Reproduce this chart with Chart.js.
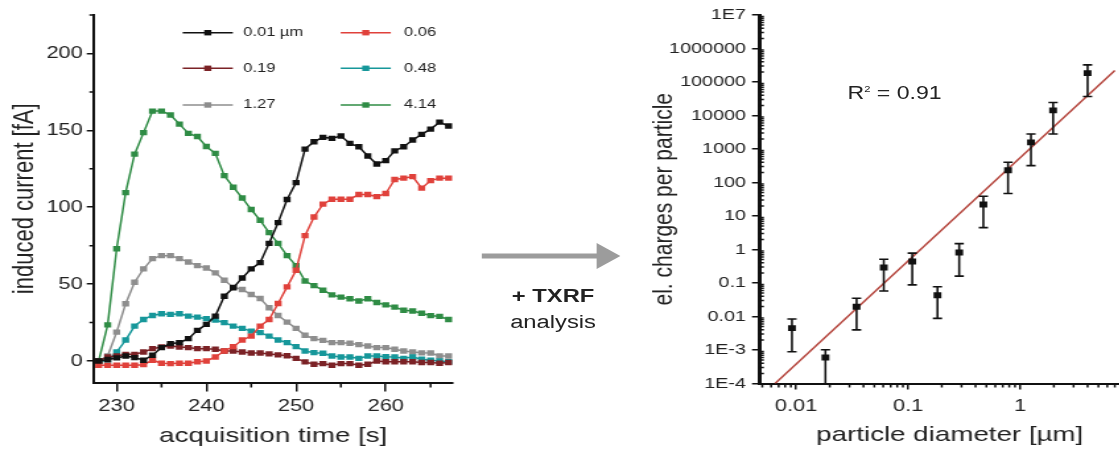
<!DOCTYPE html>
<html>
<head>
<meta charset="utf-8">
<script src="https://cdn.jsdelivr.net/npm/chart.js@4.4.1/dist/chart.umd.min.js"></script>
<style>
html, body { margin: 0; padding: 0; background: #fff; }
body { width: 1119px; height: 450px; overflow: hidden; position: relative;
       font-family: 'Liberation Sans', Arial, sans-serif; color: #222; }
/* the reference is stretched horizontally, so everything is drawn narrow and widened */
#stage { position: absolute; left: 0; top: 0; width: 880px; height: 450px;
         transform: scaleX(1.32); transform-origin: 0 0; }
#leftChart { position: absolute; left: 0; top: 0; }
#rightChart { position: absolute; left: 480px; top: 0; }
.mid { position: absolute; left: 369px; width: 100px; text-align: center; font-size: 18px; line-height: 18px; }
#r2 { position: absolute; left: 642px; top: 80px; font-size: 17.5px; line-height: 19px; }
#r2 sup { font-size: 8.5px; vertical-align: 7px; }
</style>
</head>
<body>
<div id="stage">
  <canvas id="leftChart" width="350" height="450"></canvas>
  <svg style="position:absolute;left:0;top:0" width="880" height="450">
    <rect x="365" y="253.5" width="88" height="5" fill="#9c9c9c"></rect>
    <polygon points="452,243 470,256 452,269" fill="#9c9c9c"></polygon>
  </svg>
  <div class="mid" style="top:287px;font-weight:bold">+ TXRF</div>
  <div class="mid" style="top:313px">analysis</div>
  <canvas id="rightChart" width="388" height="450"></canvas>
  <div id="r2">R<sup>2</sup> = 0.91</div>
</div>
<script>
// left panel: induced current vs acquisition time
const times = [228, 229, 230, 231, 232, 233, 234, 235, 236, 237, 238, 239, 240, 241, 242, 243, 244, 245, 246, 247,
               248, 249, 250, 251, 252, 253, 254, 255, 256, 257, 258, 259, 260, 261, 262, 263, 264, 265, 266, 267];
const sizeLabels = ['0.01 µm', '0.06', '0.19', '0.48', '1.27', '4.14'];
const seriesColors = ['#111111', '#e0413b', '#7b2226', '#16979a', '#8e8e8e', '#2f8c45'];

const current001 = [0, 1, 2, 3.2, 2.2, 0.5, 3.7, 8.7, 11.3, 11.9, 14.5, 19.9, 23.8, 29.2, 42.1, 47.6, 54, 59.9, 64, 76.5,
                    90, 105, 116, 137.8, 142.6, 145.4, 144.8, 146.3, 141.5, 139.3, 133.3, 128.1, 130.3, 136.6, 139.3, 143.7, 147.4, 150.8, 155.3, 152.8];
const current006 = [-2.8, -2.8, -2.8, -2.8, -2.8, -2.4, 0.5, -1.5, -1.7, -1.5, -1.5, -0.5, 0, 2.6, 6.5, 9.3, 13.6, 16.2, 22.7, 27,
                    37.4, 48.2, 59, 81.5, 93.6, 102, 105.2, 105.2, 105.2, 108.3, 108.3, 106.9, 108.9, 118, 118.9, 119.9, 112.4, 117.3, 118.9, 118.9];
const current019 = [0, 2.6, 3.2, 4.3, 4.3, 5.8, 8, 9.1, 9.7, 9.1, 8.7, 8, 8, 7.6, 6.5, 6.5, 5.8, 5.2, 5.2, 4.6,
                    4, 3.4, 1.7, -0.6, -2.1, -1.7, -2.8, -1.7, -1.7, -2.8, -2.1, 0, -0.5, -0.5, -0.5, -0.5, -1, -1, -1.5, -1];
const current048 = [0, 0, 5.8, 13.6, 22.7, 27, 29.6, 30.7, 30.3, 30.7, 29.2, 28.5, 27.5, 26.6, 24.9, 22.7, 21.2, 19.4, 18.4, 16.2,
                    13.6, 11.9, 9.3, 6.5, 5.4, 5, 3.2, 2.6, 2.6, 1.7, 3.2, 3.2, 2.8, 2.6, 1.7, 2.6, 1.1, 0.5, 0, -0.5];
const current127 = [0, 3.2, 18.8, 37.2, 51.2, 59.9, 66.6, 68.5, 68.5, 66.6, 64.4, 62, 60.5, 57.3, 52.5, 48, 46.5, 43.2, 40.6, 34.6,
                    29.6, 25.3, 21.2, 16.7, 14.5, 13.4, 11.9, 11.9, 11.5, 10.6, 9.7, 8.7, 8.7, 7.6, 6.5, 5.8, 5.3, 5.2, 3.2, 3.2];
const current414 = [0, 23.5, 73, 109.5, 134.5, 148.5, 162.5, 162.5, 160, 154, 148, 146, 139.5, 135, 120.5, 113, 106, 98.5, 91.5, 83.5,
                    76.5, 68.5, 62, 52, 49, 46, 43, 41.5, 40.5, 39, 40.5, 38, 36.5, 35, 33, 32.5, 31, 29.5, 29, 27];
const series = [current001, current006, current019, current048, current127, current414];

const leftXTicks = [230, 240, 250, 260];
const leftXMinor = [235, 245, 255, 265];
const leftYTicks = [0, 50, 100, 150, 200];
const leftYMinor = [25, 75, 125, 175, 225];

// right panel: charges per particle vs diameter
const diameters = [0.0092, 0.0183, 0.0347, 0.0607, 0.109, 0.183, 0.286, 0.47, 0.78, 1.25, 1.97, 4.0];
const charges = [0.0045, 0.0006, 0.0195, 0.29, 0.44, 0.043, 0.81, 22, 232, 1580, 14200, 184000];
const chargesHigh = [0.0084, 0.00102, 0.035, 0.51, 0.78, 0.077, 1.5, 39, 402, 2800, 24500, 325000];
const chargesLow = [0.00089, 0.00005, 0.004, 0.058, 0.088, 0.0088, 0.16, 4.5, 47, 320, 2800, 37000];
const fitDiameters = [0.0065, 7.0];
const fitCharges = [0.0001, 220000];

const rightXTicks = [0.01, 0.1, 1];
const rightXLabels = ['0.01', '0.1', '1'];
const rightYTicks = [1e-4, 1e-3, 0.01, 0.1, 1, 10, 100, 1000, 10000, 100000, 1000000, 1e7];
const rightYLabels = ['1E-4', '1E-3', '0.01', '0.1', '1', '10', '100', '1000', '10000', '100000', '1000000', '1E7'];
const decadeSteps = [2, 3, 4, 5, 6, 7, 8, 9];

const FONT = "'Liberation Sans', Arial, sans-serif";
const INK = '#222';
const AXIS = '#111';
Chart.defaults.font.family = FONT;
Chart.defaults.color = INK;

function decadeMinors(decades) {
    const out = [];
    decades.forEach(d => decadeSteps.forEach(m => out.push(d * m)));
    return out;
}
const rightXMinor = decadeMinors([0.001, 0.01, 0.1, 1]);
const rightYMinor = decadeMinors(rightYTicks.slice(0, -1));

function fixedTicks(values) {
    return scale => { scale.ticks = values.map(v => ({ value: v })); };
}

const leftMinorTicks = {
    id: 'leftMinorTicks',
    afterDraw(chart) {
        const { ctx, scales: { x, y } } = chart;
        ctx.save();
        ctx.strokeStyle = AXIS;
        ctx.lineWidth = 1.5;
        ctx.beginPath();
        leftXMinor.forEach(v => {
            const px = x.getPixelForValue(v);
            ctx.moveTo(px, x.top);
            ctx.lineTo(px, x.top + 5);
        });
        leftYMinor.forEach(v => {
            const py = y.getPixelForValue(v);
            ctx.moveTo(y.right, py);
            ctx.lineTo(y.right - 3, py);
        });
        ctx.stroke();
        ctx.restore();
    }
};

const legendSampleX = [138.4, 258.1];
const legendTextX = [184.3, 306.1];
const legendRowY = [32.7, 68.3, 105];

const leftLegend = {
    id: 'leftLegend',
    afterDatasetsDraw(chart) {
        const ctx = chart.ctx;
        ctx.save();
        chart.data.datasets.forEach((ds, i) => {
            const col = i % 2, row = Math.floor(i / 2);
            const x0 = legendSampleX[col], y0 = legendRowY[row];
            ctx.strokeStyle = ds.borderColor;
            ctx.lineWidth = 1.5;
            ctx.beginPath();
            ctx.moveTo(x0, y0);
            ctx.lineTo(x0 + 38, y0);
            ctx.stroke();
            ctx.fillStyle = ds.borderColor;
            ctx.fillRect(x0 + 19 - 2.7, y0 - 2.7, 5.4, 5.4);
            ctx.fillStyle = INK;
            ctx.font = '12.5px ' + FONT;
            ctx.textBaseline = 'middle';
            ctx.fillText(ds.label, legendTextX[col], y0);
        });
        ctx.restore();
    }
};

new Chart(document.getElementById('leftChart'), {
    type: 'line',
    data: {
        datasets: series.map((vals, i) => ({
            label: sizeLabels[i],
            data: times.map((t, j) => ({ x: t, y: vals[j] })),
            borderColor: seriesColors[i],
            backgroundColor: seriesColors[i],
            pointBackgroundColor: seriesColors[i],
            borderWidth: 1.5,
            pointStyle: 'rect',
            pointRadius: 3.8,
            pointBorderWidth: 0,
            tension: 0
        }))
    },
    options: {
        responsive: false,
        animation: false,
        layout: { padding: { top: 15, right: 6.8, bottom: 0, left: 0 } },
        plugins: { legend: { display: false }, tooltip: { enabled: false } },
        scales: {
            x: {
                type: 'linear',
                min: 227.4,
                max: 267.5,
                afterFit: s => { s.height = 67.5; },
                afterBuildTicks: fixedTicks(leftXTicks),
                grid: { drawOnChartArea: false, tickLength: 9, color: AXIS, lineWidth: 1.5 },
                border: { color: AXIS, width: 2 },
                ticks: { autoSkip: false, maxRotation: 0, padding: 5, font: { size: 16.5 }, color: INK },
                title: { display: true, text: 'acquisition time [s]', font: { size: 21 }, padding: { top: 0, bottom: 1 }, color: INK }
            },
            y: {
                min: -14,
                max: 225,
                afterFit: s => { s.width = 70.7; },
                afterBuildTicks: fixedTicks(leftYTicks),
                grid: { drawOnChartArea: false, tickLength: 5, color: AXIS, lineWidth: 1.5 },
                border: { color: AXIS, width: 2 },
                ticks: { autoSkip: false, padding: 3, font: { size: 16.5 }, color: INK },
                title: { display: true, text: 'induced current [fA]', font: { size: 22 }, padding: { top: 6, bottom: 0 }, color: INK }
            }
        }
    },
    plugins: [leftMinorTicks, leftLegend]
});

const errorBars = {
    id: 'errorBars',
    afterDatasetsDraw(chart) {
        const { ctx, chartArea, scales: { x, y } } = chart;
        ctx.save();
        ctx.beginPath();
        ctx.rect(chartArea.left, chartArea.top - 5, chartArea.width, chartArea.height + 5);
        ctx.clip();
        ctx.strokeStyle = AXIS;
        ctx.lineWidth = 1.6;
        diameters.forEach((d, i) => {
            const px = x.getPixelForValue(d);
            const top = y.getPixelForValue(chargesHigh[i]);
            const bot = y.getPixelForValue(chargesLow[i]);
            ctx.beginPath();
            ctx.moveTo(px, top); ctx.lineTo(px, bot);
            ctx.moveTo(px - 3.5, top); ctx.lineTo(px + 3.5, top);
            ctx.moveTo(px - 3.5, bot); ctx.lineTo(px + 3.5, bot);
            ctx.stroke();
        });
        ctx.restore();
    }
};

const rightMinorTicks = {
    id: 'rightMinorTicks',
    afterDraw(chart) {
        const { ctx, chartArea, scales: { x, y } } = chart;
        ctx.save();
        ctx.strokeStyle = AXIS;
        ctx.lineWidth = 1.5;
        ctx.beginPath();
        rightXMinor.forEach(v => {
            const px = x.getPixelForValue(v);
            if (px < chartArea.left + 2 || px > chartArea.right) return;
            ctx.moveTo(px, x.top);
            ctx.lineTo(px, x.top + 4);
        });
        rightYMinor.forEach(v => {
            const py = y.getPixelForValue(v);
            ctx.moveTo(y.right, py);
            ctx.lineTo(y.right + 3.5, py);
        });
        ctx.stroke();
        ctx.restore();
    }
};

new Chart(document.getElementById('rightChart'), {
    type: 'scatter',
    data: {
        datasets: [
            {
                label: 'charges',
                data: diameters.map((d, i) => ({ x: d, y: charges[i] })),
                pointStyle: 'rect',
                pointRadius: 4.2,
                pointBackgroundColor: AXIS,
                pointBorderWidth: 0,
                order: 0
            },
            {
                type: 'line',
                label: 'fit',
                data: fitDiameters.map((d, i) => ({ x: d, y: fitCharges[i] })),
                borderColor: '#b5473f',
                borderWidth: 1.5,
                pointRadius: 0,
                order: 1
            }
        ]
    },
    options: {
        responsive: false,
        animation: false,
        layout: { padding: { top: 15, right: 0, bottom: 0, left: 0 } },
        plugins: { legend: { display: false }, tooltip: { enabled: false } },
        scales: {
            x: {
                type: 'logarithmic',
                min: 0.0047,
                max: 11.8,
                afterFit: s => { s.height = 66.5; },
                afterBuildTicks: fixedTicks(rightXTicks),
                grid: { drawOnChartArea: false, tickLength: 6, color: AXIS, lineWidth: 1.5 },
                border: { color: AXIS, width: 2 },
                ticks: { autoSkip: false, maxRotation: 0, padding: 7, font: { size: 16.5 }, color: INK,
                         callback: (v, i) => rightXLabels[i] },
                title: { display: true, text: 'particle diameter [µm]', font: { size: 21 }, padding: { top: 0, bottom: 2.5 }, color: INK }
            },
            y: {
                type: 'logarithmic',
                min: 1e-4,
                max: 1e7,
                afterFit: s => { s.width = 95.2; },
                afterBuildTicks: fixedTicks(rightYTicks),
                grid: { drawOnChartArea: false, tickLength: 5.5, color: AXIS, lineWidth: 1.5 },
                border: { color: AXIS, width: 3 },
                ticks: { autoSkip: false, padding: 4.5, font: { size: 15 }, color: INK,
                         callback: (v, i) => rightYLabels[i] },
                title: { display: true, text: 'el. charges per particle', font: { size: 21 }, padding: { top: 11, bottom: 0 }, color: INK }
            }
        }
    },
    plugins: [errorBars, rightMinorTicks]
});
</script>
</body>
</html>
